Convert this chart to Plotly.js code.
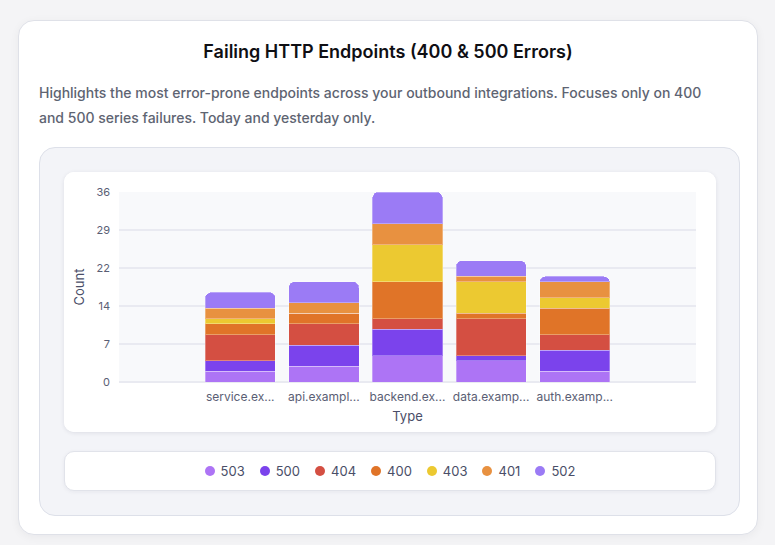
<!DOCTYPE html>
<html>
<head>
<meta charset="utf-8">
<script src="https://cdn.plot.ly/plotly-3.0.1.min.js"></script>
<style>
  html, body { margin: 0; padding: 0; }
  body {
    width: 775px; height: 545px; overflow: hidden;
    background: #f4f4f6;
    font-family: Inter, "Noto Sans", sans-serif;
  }
  .card {
    position: absolute; left: 18px; top: 20px; width: 740px; height: 515px;
    background: #fff; border: 1px solid #dfe1e8; border-radius: 16px;
    box-shadow: 0 2px 10px rgba(20, 20, 40, 0.05);
    box-sizing: border-box;
  }
  .title {
    position: absolute; left: 0; right: 0; top: 20px;
    text-align: center; font-size: 18px; font-weight: 600; color: #0f0f14;
  }
  .desc {
    position: absolute; left: 20px; top: 60px; width: 690px;
    font-size: 14px; line-height: 24.5px; font-weight: 500; color: #5e6472;
  }
  .panel {
    position: absolute; left: 20px; top: 126px; width: 701px; height: 369px;
    background: #f3f4f8; border: 1px solid #dde0e9; border-radius: 16px;
    box-sizing: border-box;
  }
  .chart-card {
    position: absolute; left: 24px; top: 24px; width: 652px; height: 260px;
    background: #fff; border-radius: 10px;
    box-shadow: 0 1px 4px rgba(30, 30, 60, 0.10);
    overflow: hidden;
  }
  .legend-card {
    position: absolute; left: 24px; top: 303px; width: 652px; height: 40px;
    background: #fff; border: 1px solid #e1e3ea; border-radius: 10px;
    box-sizing: border-box;
    box-shadow: 0 1px 4px rgba(30, 30, 60, 0.06);
    display: flex; align-items: center; justify-content: center; gap: 15px;
  }
  .item { display: flex; align-items: center; gap: 6px; font-size: 13px; color: #4a4e68; }
  .dot { width: 10px; height: 10px; border-radius: 50%; }
</style>
</head>
<body>
<div class="card">
  <div class="title">Failing HTTP Endpoints (400 &amp; 500 Errors)</div>
  <div class="desc">Highlights the most error-prone endpoints across your outbound integrations. Focuses only on 400 and 500 series failures. Today and yesterday only.</div>
  <div class="panel">
    <div class="chart-card"><div id="plot"></div></div>
    <div class="legend-card" id="legend"></div>
  </div>
</div>
<script>
const endpoints = [
  "service.example.com",
  "api.example.com",
  "backend.example.com",
  "data.example.com",
  "auth.example.com",
];

const statusCodes = ["503", "500", "404", "400", "403", "401", "502"];

const counts503 = [2, 3, 5, 4, 2];
const counts500 = [2, 4, 5, 1, 4];
const counts404 = [5, 4, 2, 7, 3];
const counts400 = [2, 2, 7, 1, 5];
const counts403 = [1, 0, 7, 6, 2];
const counts401 = [2, 2, 4, 1, 3];
const counts502 = [3, 4, 6, 3, 1];

const seriesCounts = [counts503, counts500, counts404, counts400, counts403, counts401, counts502];

const seriesColors = ["#ad74f5", "#7b43ec", "#d44f42", "#e07428", "#ecc931", "#e89140", "#9b7bf5"];

const yMax = 36;

function shortLabel(name) {
  return name.length > 10 ? name.slice(0, 10) + "..." : name;
}

const traces = statusCodes.map((code, i) => ({
  type: "bar",
  name: code,
  x: endpoints,
  y: seriesCounts[i],
  marker: {
    color: seriesColors[i],
    line: { color: "rgba(255,255,255,0.3)", width: 1 },
  },
  hovertemplate: "%{x}<br>" + code + ": %{y}<extra></extra>",
}));

const tickVals = [0, 1, 2, 3, 4, 5].map((k) => (yMax / 5) * k);
const axisFont = { family: 'Inter, "Noto Sans", sans-serif', size: 11, color: "#5a5e74" };

const layout = {
  width: 652,
  height: 260,
  barmode: "stack",
  bargap: 0.16,
  barcornerradius: 6,
  paper_bgcolor: "#ffffff",
  plot_bgcolor: "#f8f9fb",
  showlegend: false,
  margin: { l: 55, r: 20, t: 20, b: 50 },
  font: { family: 'Inter, "Noto Sans", sans-serif', color: "#4a4e68" },
  xaxis: {
    type: "category",
    range: [-1.45, 5.45],
    tickvals: endpoints,
    ticktext: endpoints.map(shortLabel),
    tickfont: { ...axisFont, size: 12 },
    ticklabelstandoff: 6,
    showgrid: false,
    zeroline: false,
    showline: false,
    title: { text: "Type", font: { size: 13, color: "#4a4e68" }, standoff: 8 },
  },
  yaxis: {
    range: [0, yMax],
    tickvals: tickVals,
    ticktext: tickVals.map((v) => String(Math.round(v))),
    tickfont: axisFont,
    ticklabelstandoff: 8,
    showgrid: true,
    gridcolor: "#e9eaf1",
    gridwidth: 2,
    zeroline: true,
    zerolinecolor: "#e9eaf1",
    zerolinewidth: 2,
    showline: false,
    title: { text: "Count", font: { size: 13, color: "#4a4e68" }, standoff: 8 },
  },
};

Plotly.newPlot("plot", traces, layout, { displayModeBar: false });

const legendEl = document.getElementById("legend");
statusCodes.forEach((code, i) => {
  const item = document.createElement("div");
  item.className = "item";
  const dot = document.createElement("span");
  dot.className = "dot";
  dot.style.background = seriesColors[i];
  const label = document.createElement("span");
  label.textContent = code;
  item.appendChild(dot);
  item.appendChild(label);
  legendEl.appendChild(item);
});
</script>
</body>
</html>
